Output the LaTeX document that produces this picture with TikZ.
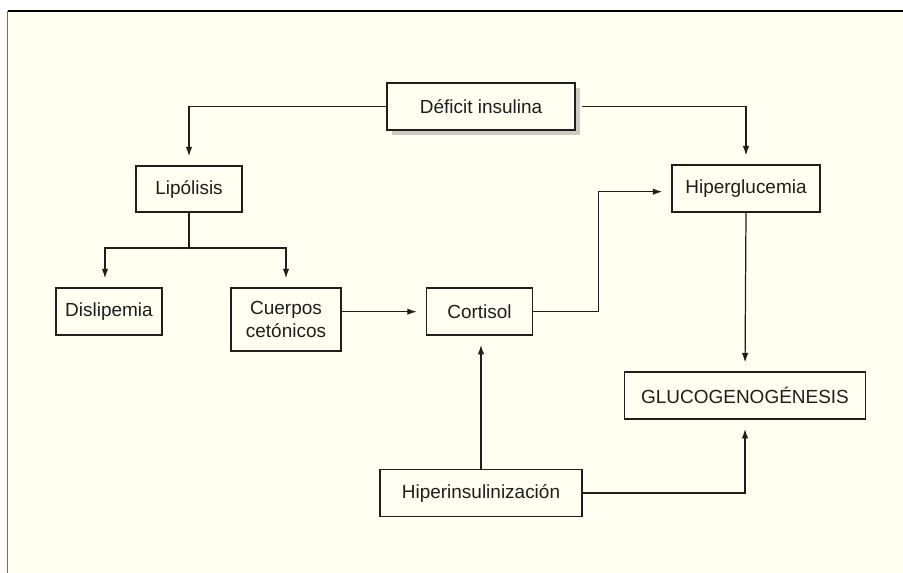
\documentclass[tikz,border=0pt]{standalone}
\usepackage{fontspec}
\setmainfont{Liberation Sans}
\usepackage{tikz}
\usetikzlibrary{arrows.meta,positioning,shadows}
\definecolor{paper}{HTML}{FEFEF1}
\definecolor{inkbox}{HTML}{1E1E1E}
\definecolor{edgegray}{HTML}{6E6E6E}

\begin{document}
\begin{tikzpicture}[
        x=0.02cm, y=-0.02cm,
        every node/.style={font=\fontsize{10.8}{12.8}\selectfont, text=inkbox},
        box/.style={draw=inkbox, fill=paper, line width=0.85pt, inner sep=0pt, align=center},
        link/.style={draw=inkbox, line width=0.7pt},
        arr/.style={link, -{Latex[length=1.9mm, width=1.3mm]}, shorten >=0.18cm}
    ]
    \useasboundingbox (0,0) rectangle (903,573);

    % hoja de fondo
    \fill[paper] (8,11) rectangle (903,573);
    \draw[black, line width=0.7pt] (8,11) -- (903,11);
    \draw[edgegray, line width=1.1pt] (7.5,11) -- (7.5,573);

    % =============== cajas ===============
    \node[box, minimum width=3.76cm, minimum height=0.94cm,
        drop shadow={shadow xshift=0.1cm, shadow yshift=-0.1cm, fill=black!40, opacity=0.5}]
        (deficit) at (481,106.5) {Déficit insulina};
    \node[box, minimum width=2.12cm, minimum height=0.92cm] (lipo) at (189,189) {Lipólisis};
    \node[box, minimum width=2.12cm, minimum height=0.94cm] (disl) at (109,311.5) {Dislipemia};
    \node[box, minimum width=2.20cm, minimum height=1.26cm] (cuerpos) at (286,319.5) {Cuerpos\\cetónicos};
    \node[box, minimum width=2.12cm, minimum height=0.94cm] (cortisol) at (479.5,311.7) {Cortisol};
    \node[box, minimum width=2.96cm, minimum height=0.94cm] (hiperglu) at (746,188.7) {Hiperglucemia};
    \node[box, minimum width=4.82cm, minimum height=0.94cm] (gluco) at (745,395.7) {GLUCOGENOGÉNESIS};
    \node[box, minimum width=4.04cm, minimum height=0.94cm] (hiperins) at (481,493) {Hiperinsulinización};

    % =============== flechas ===============
    \coordinate (split) at (189,248);
    \draw[arr] (deficit.west) -| (lipo.north);
    \draw[arr] ([xshift=0.13cm]deficit.east) -| (hiperglu.north);
    \draw[link] (lipo.south) -- (split);
    \draw[arr] (split) -| ([xshift=-0.08cm]disl.north);
    \draw[arr] (split) -| (cuerpos.north);
    \draw[arr] (cuerpos.east |- cortisol.east) -- (cortisol.west);
    \draw[arr] (cortisol.east) -- ++(65,0) |- ([yshift=-0.06cm]hiperglu.west);
    \draw[arr] (hiperglu.south) -- (gluco.north);
    \draw[arr] (hiperins.north) -- (hiperins.north |- cortisol.south);
    \draw[arr] (hiperins.east) -| (gluco.south);
\end{tikzpicture}
\end{document}
